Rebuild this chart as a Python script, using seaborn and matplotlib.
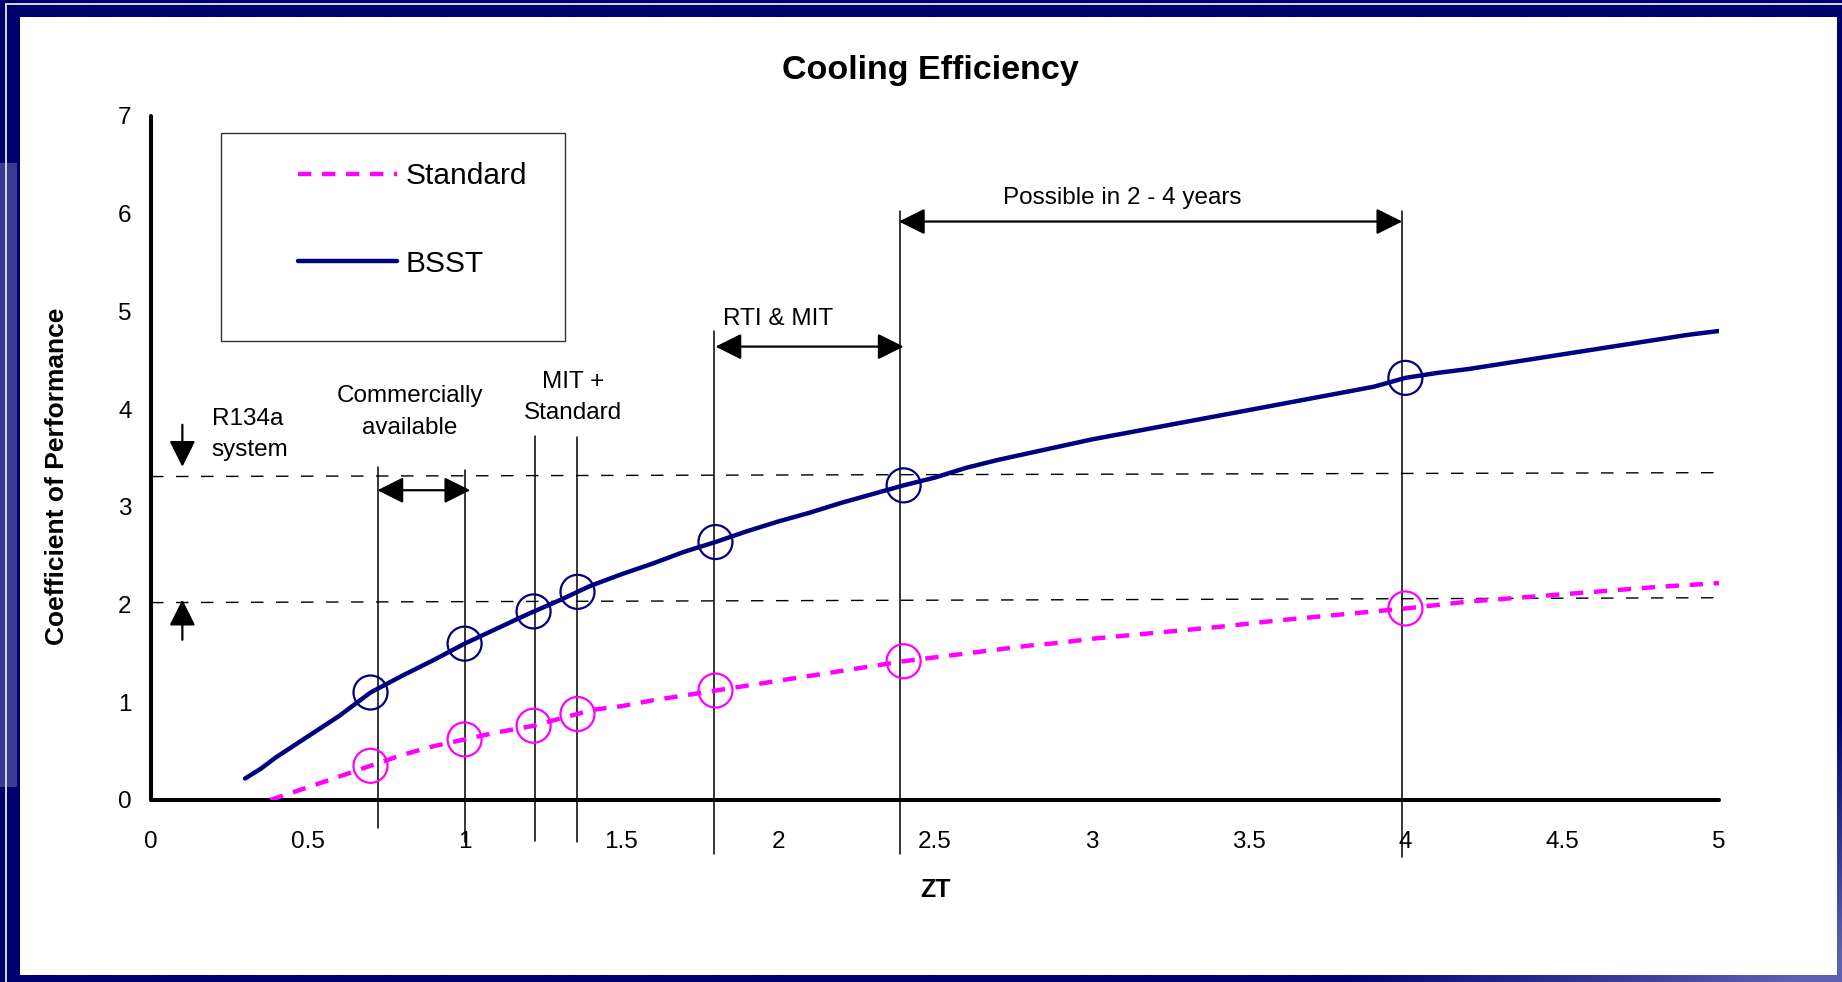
import numpy as np
import matplotlib
matplotlib.use("Agg")
import matplotlib.pyplot as plt
from matplotlib.patches import Rectangle
import seaborn as sns

# ---------------- data ----------------
zt_bsst = [0.30, 0.35, 0.40, 0.50, 0.60, 0.70, 0.80, 0.90, 1.00, 1.10, 1.20, 1.30,
           1.36, 1.40, 1.50, 1.60, 1.70, 1.80, 1.90, 2.00, 2.10, 2.20, 2.30, 2.40,
           2.50, 2.60, 2.70, 2.80, 2.90, 3.00, 3.10, 3.20, 3.30, 3.40, 3.50, 3.60,
           3.70, 3.80, 3.90, 4.00, 4.10, 4.20, 4.30, 4.40, 4.50, 4.60, 4.70, 4.80,
           4.90, 5.00]
cop_bsst = [0.22, 0.32, 0.44, 0.65, 0.86, 1.10, 1.27, 1.43, 1.60, 1.75, 1.90, 2.04,
            2.13, 2.19, 2.31, 2.42, 2.54, 2.64, 2.75, 2.85, 2.94, 3.04, 3.13, 3.22,
            3.30, 3.40, 3.48, 3.55, 3.62, 3.69, 3.75, 3.81, 3.87, 3.93, 3.99, 4.05,
            4.11, 4.17, 4.23, 4.32, 4.37, 4.41, 4.46, 4.51, 4.56, 4.61, 4.66, 4.71,
            4.76, 4.80]

zt_std = [0.38, 0.50, 0.60, 0.70, 0.80, 0.90, 1.00, 1.10, 1.22, 1.30, 1.36, 1.40,
          1.50, 1.60, 1.70, 1.80, 1.90, 2.00, 2.10, 2.20, 2.30, 2.40, 2.50, 2.60,
          2.70, 2.80, 2.90, 3.00, 3.20, 3.40, 3.60, 3.80, 4.00, 4.20, 4.40, 4.60,
          4.80, 5.00]
cop_std = [0.00, 0.13, 0.24, 0.35, 0.46, 0.55, 0.62, 0.69, 0.76, 0.83, 0.88, 0.92,
           0.96, 1.02, 1.07, 1.12, 1.17, 1.22, 1.27, 1.32, 1.37, 1.42, 1.46, 1.50,
           1.54, 1.58, 1.61, 1.65, 1.71, 1.77, 1.84, 1.90, 1.96, 2.03, 2.08, 2.13,
           2.18, 2.22]

zt_marked = [0.70, 1.00, 1.22, 1.36, 1.80, 2.40, 4.00]
cop_bsst_marked = [1.10, 1.60, 1.93, 2.13, 2.64, 3.22, 4.32]
cop_std_marked = [0.35, 0.62, 0.76, 0.88, 1.12, 1.42, 1.96]

x_ticks = [0, 0.5, 1, 1.5, 2, 2.5, 3, 3.5, 4, 4.5, 5]
x_tick_labels = ["0", "0.5", "1", "1.5", "2", "2.5", "3", "3.5", "4", "4.5", "5"]
y_ticks = [0, 1, 2, 3, 4, 5, 6, 7]
y_tick_labels = ["0", "1", "2", "3", "4", "5", "6", "7"]

ref_zt = [0.0, 5.0]
r134a_upper = [3.31, 3.35]
r134a_lower = [2.02, 2.07]

milestone_zt = [0.725, 1.0, 1.224, 1.36, 1.795, 2.388, 3.99]
milestone_top = [3.41, 3.38, 3.73, 3.71, 4.80, 6.03, 6.03]
milestone_bottom = [-0.29, -0.43, -0.42, -0.43, -0.55, -0.55, -0.58]

# ---------------- style ----------------
sns.set_style("white")
plt.rcParams['font.family'] = ['Liberation Sans', 'DejaVu Sans']
plt.rcParams['text.color'] = 'black'
plt.rcParams['axes.labelcolor'] = 'black'
plt.rcParams['xtick.color'] = 'black'
plt.rcParams['ytick.color'] = 'black'

W, H = 1842, 982
fig = plt.figure(figsize=(W / 100, H / 100), dpi=100)

# slide frame background
bg = fig.add_axes([0, 0, 1, 1], zorder=-10)
bg.set_axis_off()
yy, xx = np.mgrid[0:H, 0:W]
wgt = np.clip((xx / W + yy / H - 1.72) / 0.25, 0, 1)
navy = np.array([0, 0, 110]) / 255
light = np.array([96, 96, 176]) / 255
img = navy[None, None, :] * (1 - wgt[..., None]) + light[None, None, :] * wgt[..., None]
bg.imshow(img, extent=[0, W, H, 0], aspect='auto')
bg.set_xlim(0, W)
bg.set_ylim(H, 0)
bg.add_patch(Rectangle((0, 163), 17, 624, color='#6a6ab4', alpha=0.55, lw=0))
bg.plot([6, 6], [4, H], color='#d8d8e6', lw=1.4)
bg.plot([6, W], [4, 4], color='#d8d8e6', lw=1.4)
bg.add_patch(Rectangle((20, 17), 1817, 958, color='white', lw=0))

# main axes
x0, x1, ytop, ybot = 151, 1719, 116, 800
ax = fig.add_axes([x0 / W, 1 - ybot / H, (x1 - x0) / W, (ybot - ytop) / H])
ax.set_facecolor('none')

# reference dashed lines (R134a system range)
for yv in (r134a_upper, r134a_lower):
    ax.plot(ref_zt, yv, color='black', lw=1.0, ls=(0, (9, 9)), zorder=2)

# milestone vertical lines
for xv, yt, yb in zip(milestone_zt, milestone_top, milestone_bottom):
    ax.plot([xv, xv], [yb, yt], color='black', lw=1.1, clip_on=False, zorder=2)

# series
sns.lineplot(x=zt_std, y=cop_std, ax=ax, color='#FF00FF', lw=3.2,
             ls=(0, (3, 2.4)), label='Standard', zorder=4)
sns.lineplot(x=zt_bsst, y=cop_bsst, ax=ax, color='#000080', lw=3.2,
             label='BSST', zorder=4)
sns.scatterplot(x=zt_marked, y=cop_std_marked, ax=ax, marker='o', s=600,
                facecolors='none', edgecolors='#FF00FF', linewidths=1.6, zorder=5)
sns.scatterplot(x=zt_marked, y=cop_bsst_marked, ax=ax, marker='o', s=600,
                facecolors='none', edgecolors='#000080', linewidths=1.6, zorder=5)

ax.set_xlim(0, 5)
ax.set_ylim(0, 7)
ax.set_xticks(x_ticks)
ax.set_xticklabels(x_tick_labels)
ax.set_yticks(y_ticks)
ax.set_yticklabels(y_tick_labels)
for s in ['top', 'right']:
    ax.spines[s].set_visible(False)
for s in ['left', 'bottom']:
    ax.spines[s].set_linewidth(2.9)
    ax.spines[s].set_color('black')
    ax.spines[s].set_capstyle('round')
ax.tick_params(axis='both', direction='out', length=6, width=2.5,
               color='black', labelsize=17.5, labelcolor='black')
ax.tick_params(axis='x', pad=16)
ax.tick_params(axis='y', pad=8)

ax.set_xlabel('ZT', fontsize=18, fontweight='bold')
ax.xaxis.label.set_va('center')
ax.xaxis.set_label_coords(0.5, (ybot - 890) / (ybot - ytop))
ax.set_ylabel('Coefficient of Performance', fontsize=19, fontweight='bold')
ax.yaxis.label.set_va('center')
ax.yaxis.set_label_coords((57 - x0) / (x1 - x0), (ybot - 476) / (ybot - ytop))

fig.text(930 / W, 1 - 70 / H, 'Cooling Efficiency', fontsize=24.5,
         fontweight='bold', ha='center', va='center', color='black')

# legend
leg = ax.legend(loc='center left', frameon=False, fontsize=21.5,
                handlelength=3.3, handletextpad=0.3, labelspacing=2.0,
                borderpad=0, borderaxespad=0,
                bbox_to_anchor=(298 / W, 1 - 220 / H), bbox_transform=fig.transFigure)
fig.add_artist(Rectangle((221 / W, 1 - 341 / H), 344 / W, 208 / H,
                         transform=fig.transFigure, fill=False,
                         edgecolor='#333333', lw=1.0))

# arrows
def dbl(xa, xb, y):
    ax.annotate('', xy=(xb, y), xytext=(xa, y),
                arrowprops=dict(arrowstyle='<|-|>,head_length=0.8,head_width=0.4',
                                color='black', lw=1.6, mutation_scale=20,
                                shrinkA=0, shrinkB=0), annotation_clip=False)

def single(x, yfrom, yto):
    ax.annotate('', xy=(x, yto), xytext=(x, yfrom),
                arrowprops=dict(arrowstyle='-|>,head_length=0.8,head_width=0.4',
                                color='black', lw=1.6, mutation_scale=20,
                                shrinkA=0, shrinkB=0), annotation_clip=False)

dbl(0.722, 1.018, 3.17)
dbl(1.80, 2.40, 4.64)
dbl(2.385, 3.99, 5.92)
single(0.10, 3.84, 3.41)
single(0.10, 1.64, 2.05)

tkw = dict(fontsize=17.5, color='black', linespacing=1.55)
ax.text(0.193, 3.74, 'R134a\nsystem', ha='left', va='center', **tkw)
ax.text(0.826, 3.97, 'Commercially\navailable', ha='center', va='center', **tkw)
ax.text(1.345, 4.12, 'MIT +\nStandard', ha='center', va='center', **tkw)
ax.text(2.0, 4.92, 'RTI & MIT', ha='center', va='center', **tkw)
ax.text(3.097, 6.16, 'Possible in 2 - 4 years', ha='center', va='center', **tkw)

fig.savefig('out.png', dpi=100)
